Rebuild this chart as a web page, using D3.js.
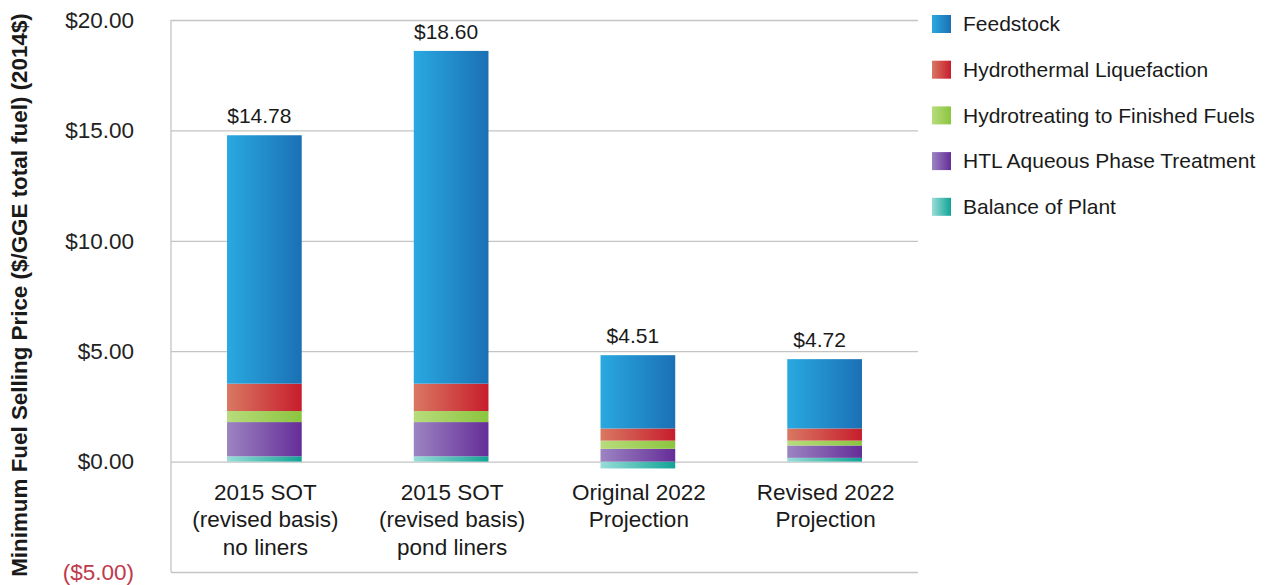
<!DOCTYPE html>
<html>
<head>
<meta charset="utf-8">
<script src="https://cdn.jsdelivr.net/npm/d3@7"></script>
<style>
  body { margin: 0; background: #fff; }
  svg { font-family: "Liberation Sans", Arial, sans-serif; }
</style>
</head>
<body>
<svg id="chart" width="1272" height="585"></svg>
<script>
// Data
var categories = [
    ["2015 SOT", "(revised basis)", "no liners"],
    ["2015 SOT", "(revised basis)", "pond liners"],
    ["Original 2022", "Projection"],
    ["Revised 2022", "Projection"]
];
var seriesNames = ["Feedstock", "Hydrothermal Liquefaction", "Hydrotreating to Finished Fuels",
    "HTL Aqueous Phase Treatment", "Balance of Plant"];
var feedstock     = [11.25, 15.07, 3.32, 3.14];
var liquefaction  = [1.24, 1.24, 0.55, 0.55];
var hydrotreating = [0.50, 0.50, 0.37, 0.22];
var aqueous       = [1.55, 1.55, 0.58, 0.56];
var balance       = [0.24, 0.24, -0.31, 0.17];
var totals        = ["$14.78", "$18.60", "$4.51", "$4.72"];
var yTicks        = [-5, 0, 5, 10, 15, 20];

var gradients = [
    ["#29a9e1", "#1b70b4"],
    ["#d97862", "#c71d2c"],
    ["#b8dc7c", "#8bc53f"],
    ["#9c84c2", "#652d98"],
    ["#98ddd8", "#12a396"]
];

var svg = d3.select("#chart"),
    margin = {top: 20, right: 354, bottom: 13, left: 171},
    width = +svg.attr("width") - margin.left - margin.right,
    height = +svg.attr("height") - margin.top - margin.bottom;

// Gradients
var defs = svg.append("defs");
gradients.forEach(function(g, i) {
    var lg = defs.append("linearGradient")
        .attr("id", "grad" + i)
        .attr("x1", 0).attr("x2", 1).attr("y1", 0).attr("y2", 0);
    lg.append("stop").attr("offset", "0%").attr("stop-color", g[0]);
    lg.append("stop").attr("offset", "100%").attr("stop-color", g[1]);
});

// Table for the stack (bottom to top)
var keys = ["balance", "aqueous", "hydrotreating", "liquefaction", "feedstock"];
var table = categories.map(function(c, i) {
    return {
        idx: i,
        feedstock: feedstock[i],
        liquefaction: liquefaction[i],
        hydrotreating: hydrotreating[i],
        aqueous: aqueous[i],
        balance: balance[i]
    };
});
var stacked = d3.stack().keys(keys).offset(d3.stackOffsetDiverging)(table);

// Scaling
var x = d3.scaleBand()
    .domain(d3.range(categories.length))
    .range([0, width])
    .paddingInner(0.6)
    .paddingOuter(0.3);
var y = d3.scaleLinear().domain([-5, 20]).range([height, 0]);

var g = svg.append("g")
    .attr("transform", "translate(" + margin.left + "," + margin.top + ")");

// Gridlines
g.append("g")
    .call(d3.axisLeft(y).tickValues(yTicks).tickSize(-width).tickFormat(""))
    .call(function(a) {
        a.select(".domain").remove();
        a.selectAll("line").attr("stroke", "#c4c4c4").attr("stroke-width", 1.3);
    });

// Left axis line
g.append("line")
    .attr("x1", 0).attr("x2", 0)
    .attr("y1", y(20)).attr("y2", y(-5))
    .attr("stroke", "#c4c4c4").attr("stroke-width", 1.3);

// Y tick labels
g.append("g")
    .attr("transform", "translate(-34,0)")
    .call(d3.axisLeft(y).tickValues(yTicks).tickSize(0).tickFormat(function(d) {
        return d < 0 ? "($" + Math.abs(d).toFixed(2) + ")" : "$" + d.toFixed(2);
    }))
    .call(function(a) {
        a.select(".domain").remove();
        a.selectAll("text")
            .attr("font-family", "Liberation Sans, Arial, sans-serif")
            .attr("font-size", 22.5)
            .attr("fill", function(d) { return d < 0 ? "#c0394b" : "#222"; });
    });

// Bars
var keyIndex = {feedstock: 0, liquefaction: 1, hydrotreating: 2, aqueous: 3, balance: 4};
g.selectAll(".layer")
    .data(stacked)
    .enter()
        .append("g")
        .attr("class", "layer")
        .attr("fill", function(d) { return "url(#grad" + keyIndex[d.key] + ")"; })
    .selectAll("rect")
    .data(function(d) { return d; })
    .enter()
        .append("rect")
        .attr("x", function(d) { return x(d.data.idx); })
        .attr("y", function(d) { return y(Math.max(d[0], d[1])); })
        .attr("width", x.bandwidth())
        .attr("height", function(d) { return Math.abs(y(d[0]) - y(d[1])); });

// Total labels
var tops = table.map(function(d, i) {
    return d3.max(stacked, function(s) { return s[i][1]; });
});
g.selectAll(".total")
    .data(totals)
    .enter()
        .append("text")
        .attr("class", "total")
        .attr("x", function(d, i) { return x(i) + x.bandwidth() / 2 - 5; })
        .attr("y", function(d, i) { return y(tops[i]) - 12; })
        .attr("text-anchor", "middle")
        .attr("font-size", 21)
        .attr("fill", "#1a1a1a")
        .text(function(d) { return d; });

// Category labels
var cat = g.selectAll(".cat")
    .data(categories)
    .enter()
        .append("text")
        .attr("class", "cat")
        .attr("text-anchor", "middle")
        .attr("font-size", 22.5)
        .attr("fill", "#1a1a1a")
        .attr("transform", function(d, i) {
            return "translate(" + (x(i) + x.bandwidth() / 2 + 1) + "," + (y(0) + 38) + ")";
        });
cat.selectAll("tspan")
    .data(function(d) { return d; })
    .enter()
        .append("tspan")
        .attr("x", 0)
        .attr("y", function(d, i) { return i * 27.5; })
        .text(function(d) { return d; });

// Y axis title
svg.append("text")
    .attr("transform", "translate(27," + 295 + ") rotate(-90)")
    .attr("text-anchor", "middle")
    .attr("font-weight", "bold")
    .attr("font-size", 22.4)
    .attr("fill", "#1a1a1a")
    .text("Minimum Fuel Selling Price ($/GGE total fuel) (2014$)");

// Legend
var legend = svg.append("g").attr("transform", "translate(932,15)");
var item = legend.selectAll(".item")
    .data(seriesNames)
    .enter()
        .append("g")
        .attr("class", "item")
        .attr("transform", function(d, i) { return "translate(0," + (i * 45.7) + ")"; });
item.append("rect")
    .attr("width", 19)
    .attr("height", 18)
    .attr("fill", function(d, i) { return "url(#grad" + i + ")"; });
item.append("text")
    .attr("x", 31)
    .attr("y", 9)
    .attr("dy", "0.35em")
    .attr("font-size", 21)
    .attr("fill", "#1a1a1a")
    .text(function(d) { return d; });
</script>
</body>
</html>
